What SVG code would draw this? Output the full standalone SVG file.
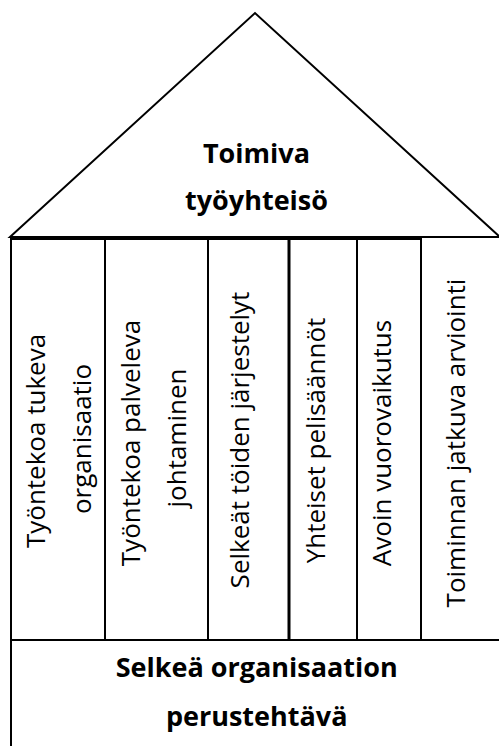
<svg xmlns="http://www.w3.org/2000/svg" width="499" height="746" viewBox="0 0 499 746">
<style>
.ln{fill:#fff;stroke:#000;stroke-width:2}
.thick{fill:none;stroke:#000;stroke-width:3}
.t{font-family:"Open Sans","Liberation Sans",sans-serif;font-size:26px;fill:#000;text-anchor:middle}
.b{font-family:"Open Sans","Liberation Sans",sans-serif;font-size:27px;font-weight:bold;fill:#000;text-anchor:middle}
</style>
<rect width="499" height="746" fill="#fff"/>
<g id="roof">
<polygon class="ln" points="10,237 255,13 500,237"/>
<text class="b" x="256.5" y="163">Toimiva</text>
<text class="b" x="256.5" y="210">työyhteisö</text>
</g>
<g id="col1">
<rect class="ln" x="11" y="238.5" width="94" height="401.5"/>
<text class="t" transform="translate(45,441) rotate(-90)">Työntekoa tukeva</text>
<text class="t" transform="translate(91,439) rotate(-90)">organisaatio</text>
</g>
<g id="col2">
<rect class="ln" x="105" y="238.5" width="103" height="401.5"/>
<text class="t" transform="translate(139.5,443) rotate(-90)">Työntekoa palveleva</text>
<text class="t" transform="translate(186,438) rotate(-90)">johtaminen</text>
</g>
<g id="col3">
<rect class="ln" x="208" y="238.5" width="81" height="401.5"/>
<text class="t" transform="translate(249,440) rotate(-90)">Selkeät töiden järjestelyt</text>
</g>
<g id="col4">
<rect class="ln" x="289" y="238.5" width="68" height="401.5"/>
<text class="t" transform="translate(325,440.5) rotate(-90)">Yhteiset pelisäännöt</text>
</g>
<g id="col5">
<rect class="ln" x="357" y="238.5" width="64" height="401.5"/>
<text class="t" transform="translate(391,443) rotate(-90)">Avoin vuorovaikutus</text>
</g>
<g id="col6">
<rect class="ln" x="421" y="237" width="82" height="403"/>
<text class="t" transform="translate(465,443) rotate(-90)">Toiminnan jatkuva arviointi</text>
</g>
<g id="base">
<rect class="ln" x="11" y="640" width="492" height="110"/>
<text class="b" x="256.7" y="676.7">Selkeä organisaation</text>
<text class="b" x="256.7" y="726">perustehtävä</text>
</g>
<g id="frame">
<line class="thick" x1="10" y1="238.5" x2="421" y2="238.5"/>
<line class="thick" x1="289" y1="238.5" x2="289" y2="640"/>
</g>
<g id="connectors"></g>
</svg>
